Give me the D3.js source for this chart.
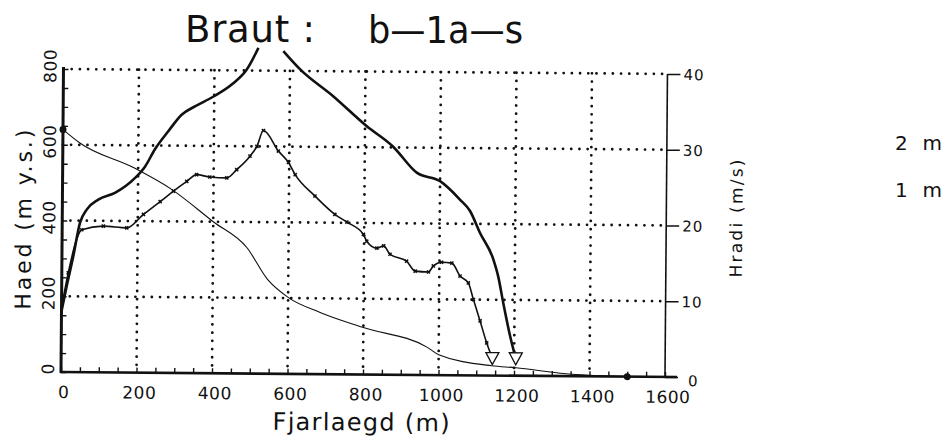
<html>
<head>
<style>
body { margin: 0; padding: 0; background: #fff; }
svg { display: block; }
text { font-family: "DejaVu Sans", sans-serif; fill: #111; }
.grid line { stroke: #111; stroke-width: 2.8; stroke-dasharray: 0 8.2; stroke-linecap: round; }
.tick line { stroke: #111; stroke-width: 1.4; }
</style>
<script src="https://cdnjs.cloudflare.com/ajax/libs/d3/7.8.5/d3.min.js"></script>
</head>
<body>
<svg id="chart" width="946" height="438"></svg>
<script>
var width = 946, height = 438

// tick labels
var xTicks = [0, 200, 400, 600, 800, 1000, 1200, 1400, 1600]
var leftTicks = [0, 200, 400, 600, 800]
var rightTicks = [0, 10, 20, 30, 40]

// terrain profile (m y.s.)
var terrainDist = [0, 45, 190, 290, 400, 490, 545, 600, 685, 800, 970, 1000, 1140, 1205, 1330, 1500]
var terrainElev = [640, 605, 540, 484, 400, 332, 249, 202, 163, 124, 73, 54, 26, 21, 7, 0]

// speed, 2 m (m/s) - goes off the top of the chart around 550 m
var speed2Dist = [0, 13, 30, 47, 65, 95, 139, 192, 218, 244, 279, 314, 349, 397, 450, 485, 516, 550,
  582, 627, 715, 804, 875, 938, 1000, 1053, 1080, 1107, 1143, 1156, 1170, 1189, 1203]
var speed2 = [8.0, 11.3, 15.3, 19.7, 21.5, 22.8, 23.7, 25.7, 27.2, 29.5, 31.9, 34.1, 35.2, 36.5, 38.3, 40.1, 43.0, null,
  42.6, 40.2, 36.7, 32.8, 30.1, 26.7, 25.6, 23.2, 21.7, 18.8, 15.3, 13.1, 9.6, 5.2, 2.5]

// speed, 1 m (m/s)
var speed1Dist = [0, 17, 52, 109, 171, 215, 259, 294, 329, 355, 390, 435, 461, 496, 514, 531, 571, 598, 616,
  669, 722, 754, 798, 807, 834, 852, 869, 913, 936, 971, 984, 1006, 1033, 1055, 1077, 1091, 1109, 1127, 1141]
var speed1 = [8.5, 13.1, 18.8, 19.3, 19.1, 20.9, 22.6, 24.0, 25.3, 26.2, 25.9, 25.8, 26.9, 28.7, 30.0, 32.1, 29.4, 27.9, 26.3,
  23.5, 21.1, 20.1, 18.5, 17.6, 16.7, 17.0, 15.9, 15.0, 13.7, 13.6, 14.4, 14.9, 14.8, 13.1, 12.2, 10.0, 7.2, 4.3, 2.5]

var legendLabels = ['2 m', '1 m']

var x0 = 61, x1 = 665, yTop = 69, yBot = 372

var x = d3.scaleLinear().domain([0, 1600]).range([x0, x1])
var yL = d3.scaleLinear().domain([0, 800]).range([yBot, yTop])
var yR = d3.scaleLinear().domain([0, 40]).range([yBot, yTop])

var svg = d3.select('#chart')
svg.append('rect').attr('width', width).attr('height', height).attr('fill', '#fff')

// the scanned plot is tilted a little clockwise
var g = svg.append('g').attr('transform', 'rotate(0.47,' + x0 + ',' + yBot + ')')

// dotted grid
var grid = g.append('g').attr('class', 'grid')
grid.selectAll('.vg')
  .data(xTicks.filter(function(d) { return d > 0 && d < 1600 }))
  .join('line')
  .attr('x1', function(d) { return x(d) }).attr('x2', function(d) { return x(d) })
  .attr('y1', yL(800)).attr('y2', yL(0))
grid.selectAll('.hg')
  .data(leftTicks.filter(function(d) { return d > 0 }))
  .join('line')
  .attr('class', 'hg')
  .attr('x1', x(0)).attr('x2', x(1600))
  .attr('y1', function(d) { return yL(d) }).attr('y2', function(d) { return yL(d) })

// minor ticks, inward
g.append('g')
  .attr('transform', 'translate(0,' + yBot + ')')
  .call(d3.axisBottom(x).tickValues(d3.range(0, 1601, 50)).tickSize(-5).tickFormat(''))
  .call(function(a) { a.select('.domain').remove() })
g.append('g')
  .attr('transform', 'translate(' + x0 + ',0)')
  .call(d3.axisLeft(yL).tickValues(d3.range(0, 801, 50)).tickSize(-5).tickFormat(''))
  .call(function(a) { a.select('.domain').remove() })
g.append('g')
  .attr('transform', 'translate(' + x1 + ',0)')
  .call(d3.axisRight(yR).tickValues(rightTicks).tickSize(13).tickFormat(''))
  .call(function(a) { a.select('.domain').remove() })

// axis lines
g.append('line').attr('x1', x0).attr('x2', x0).attr('y1', yTop - 2).attr('y2', yBot + 1)
  .attr('stroke', '#111').attr('stroke-width', 3)
g.append('line').attr('x1', x0 - 1).attr('x2', x1 + 12).attr('y1', yBot).attr('y2', yBot)
  .attr('stroke', '#111').attr('stroke-width', 2.6)
g.append('line').attr('x1', x1).attr('x2', x1).attr('y1', yTop).attr('y2', yBot)
  .attr('stroke', '#111').attr('stroke-width', 1.6)

// tick labels
g.selectAll('.xl')
  .data(xTicks)
  .join('text')
  .attr('x', function(d) { return x(d) + 3 })
  .attr('y', yBot + 26)
  .attr('text-anchor', 'middle')
  .attr('font-size', 17)
  .attr('letter-spacing', 0.5)
  .text(function(d) { return d })

g.selectAll('.yl')
  .data(leftTicks)
  .join('text')
  .attr('transform', function(d) { return 'translate(' + (x0 - 7) + ',' + (yL(d) - 3) + ') rotate(-90)' })
  .attr('text-anchor', 'middle')
  .attr('font-size', 17)
  .attr('letter-spacing', 0.5)
  .text(function(d) { return d })

g.selectAll('.yr')
  .data(rightTicks.filter(function(d) { return d > 0 }))
  .join('text')
  .attr('x', x1 + 16)
  .attr('y', function(d) { return yR(d) + 6 })
  .attr('font-size', 15)
  .attr('letter-spacing', 1)
  .text(function(d) { return d })
g.append('text')
  .attr('x', x1 + 23).attr('y', yR(0) + 9)
  .attr('font-size', 15)
  .text(rightTicks[0])

// axis titles
g.append('text')
  .attr('transform', 'translate(30,' + 220 + ') rotate(-90)')
  .attr('text-anchor', 'middle')
  .attr('font-size', 22)
  .attr('textLength', 180).attr('lengthAdjust', 'spacing')
  .text('Haed (m y.s.)')
g.append('text')
  .attr('x', 273).attr('y', 428)
  .attr('font-size', 24)
  .attr('textLength', 177).attr('lengthAdjust', 'spacing')
  .text('Fjarlaegd (m)')
g.append('text')
  .attr('transform', 'translate(741,' + 213 + ') rotate(-90)')
  .attr('text-anchor', 'middle')
  .attr('font-size', 17)
  .attr('textLength', 118).attr('lengthAdjust', 'spacing')
  .text('Hradi (m/s)')

// curves
var lineL = d3.line()
  .curve(d3.curveMonotoneX)
  .x(function(d) { return x(d[0]) })
  .y(function(d) { return yL(d[1]) })
var lineR = d3.line()
  .curve(d3.curveMonotoneX)
  .defined(function(d) { return d[1] !== null })
  .x(function(d) { return x(d[0]) })
  .y(function(d) { return yR(d[1]) })

var terrain = d3.zip(terrainDist, terrainElev)
var s2 = d3.zip(speed2Dist, speed2)
var s1 = d3.zip(speed1Dist, speed1)

g.append('path').datum(terrain)
  .attr('d', lineL).attr('fill', 'none').attr('stroke', '#111').attr('stroke-width', 1.1)
g.append('path').datum(s1)
  .attr('d', lineR).attr('fill', 'none').attr('stroke', '#111').attr('stroke-width', 1.6)
g.append('path').datum(s2)
  .attr('d', lineR).attr('fill', 'none').attr('stroke', '#111').attr('stroke-width', 2.6)
  .attr('stroke-linejoin', 'round')

// small markers on the 1 m curve
g.selectAll('.mk')
  .data(s1.slice(1, -1))
  .join('path')
  .attr('d', d3.symbol(d3.symbolCross, 11))
  .attr('transform', function(d) { return 'translate(' + x(d[0]) + ',' + yR(d[1]) + ') rotate(45)' })
  .attr('fill', '#111')

// end triangles
var ends = [s1[s1.length - 1], s2[s2.length - 1]]
g.selectAll('.tri')
  .data(ends)
  .join('path')
  .attr('d', 'M-6,-4L7,-4L0.5,8Z')
  .attr('transform', function(d) { return 'translate(' + x(d[0]) + ',' + yR(d[1]) + ')' })
  .attr('fill', '#fff').attr('stroke', '#111').attr('stroke-width', 1.3)

// dots at terrain ends
g.selectAll('.dot')
  .data([terrain[0], terrain[terrain.length - 1]])
  .join('circle')
  .attr('cx', function(d) { return x(d[0]) })
  .attr('cy', function(d) { return yL(d[1]) })
  .attr('r', 3.5)
  .attr('fill', '#111')

// title
svg.append('text')
  .attr('x', 185).attr('y', 42)
  .attr('font-size', 37)
  .attr('textLength', 130).attr('lengthAdjust', 'spacing')
  .text('Braut :')
svg.append('text')
  .attr('x', 368).attr('y', 43)
  .attr('font-size', 37)
  .attr('textLength', 155).attr('lengthAdjust', 'spacingAndGlyphs')
  .text('b\u20141a\u2014s')

// legend labels
svg.selectAll('.lg')
  .data(legendLabels)
  .join('text')
  .attr('x', 895)
  .attr('y', function(d, i) { return 150 + i * 47 })
  .attr('font-size', 20)
  .attr('textLength', 47).attr('lengthAdjust', 'spacing')
  .text(function(d) { return d })
</script>
</body>
</html>
